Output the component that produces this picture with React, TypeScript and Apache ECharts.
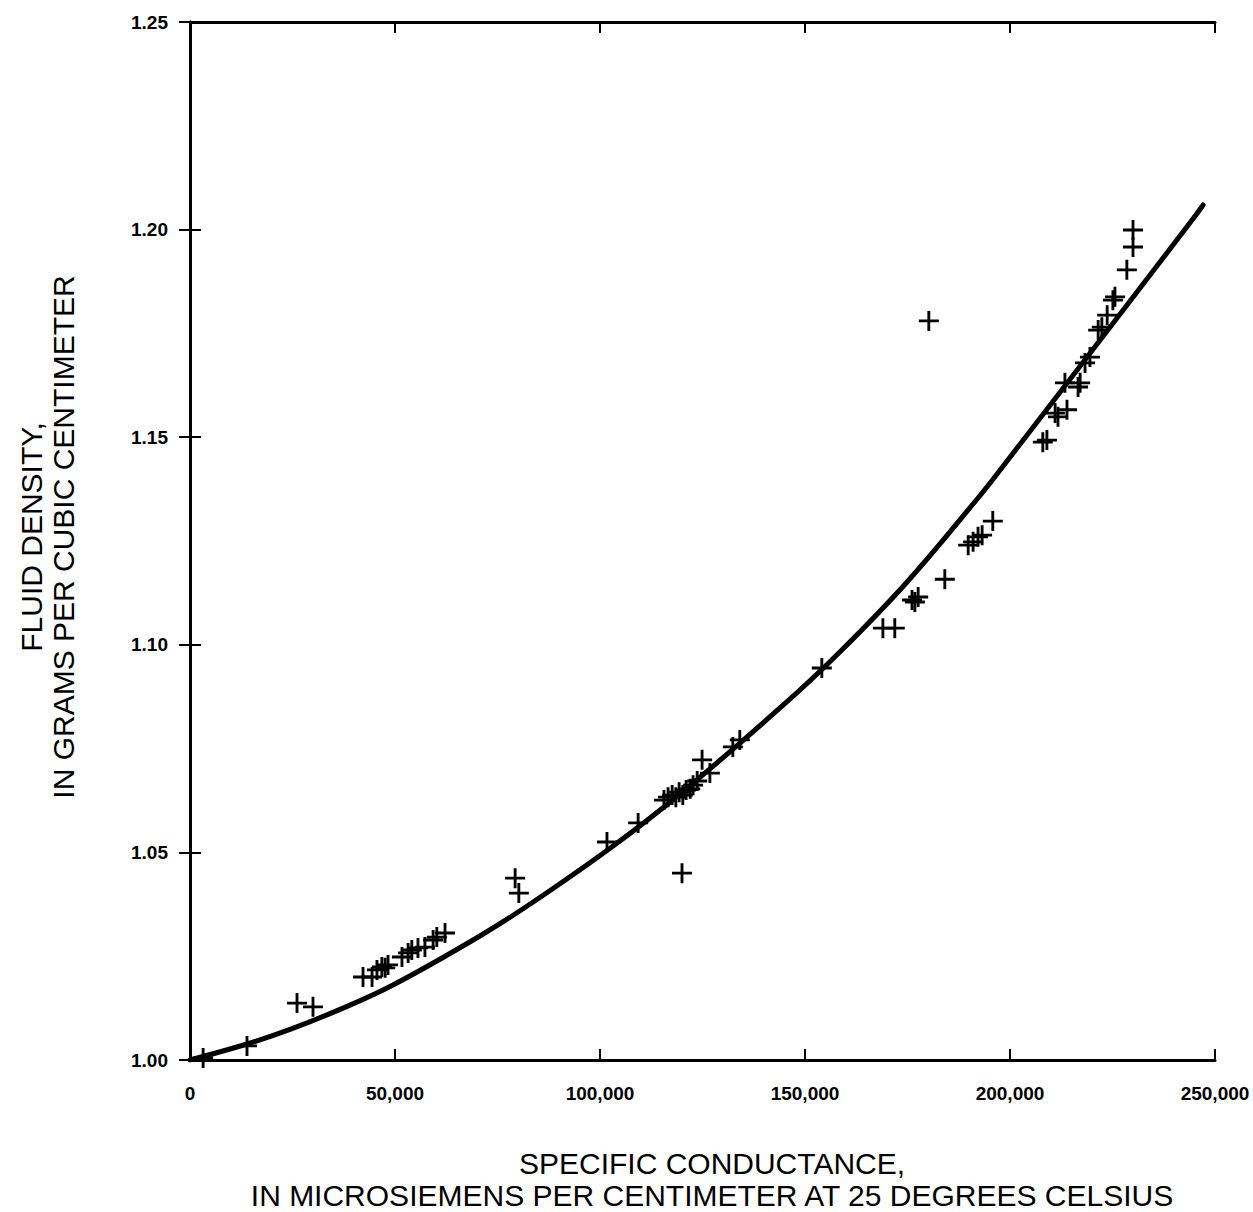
import React, { useEffect, useRef } from "react";
import * as echarts from "echarts";

const xTicks = [0, 50000, 100000, 150000, 200000, 250000];
const yTicks = [1.0, 1.05, 1.1, 1.15, 1.2, 1.25];

const sampleConductance = [
  3200, 13900, 26100, 30000, 42200, 44400, 45600, 46800, 47600, 48300,
  51700, 53200, 54100, 55600, 57300, 59300, 60200, 62200, 79300, 80200,
  101700, 109300, 120000, 115600, 116600, 117600, 118500, 119300, 120200, 121000,
  122000, 122700, 123700, 124900, 126800, 132400, 134100, 154100, 169000, 171900,
  176100, 176800, 177600, 184100, 189800, 191000, 192200, 193200, 195800, 180200,
  208000, 209000, 211000, 211700, 213900, 213400, 216600, 217100, 218300, 219500,
  221500, 222400, 223700, 225100, 225600, 228500, 230000, 230000,
];
const sampleDensity = [
  1.0005, 1.0034, 1.0137, 1.0128, 1.02, 1.02, 1.0217, 1.0224, 1.0222, 1.0229,
  1.0248, 1.0258, 1.0265, 1.027, 1.0272, 1.0289, 1.0296, 1.0306, 1.0438, 1.0402,
  1.0525, 1.0571, 1.045, 1.0626, 1.0633, 1.0638, 1.0633, 1.0645, 1.0638, 1.065,
  1.0653, 1.0662, 1.0672, 1.0723, 1.0691, 1.0754, 1.0771, 1.0944, 1.104, 1.104,
  1.1108, 1.1103, 1.1115, 1.1158, 1.124, 1.1248, 1.126, 1.1264, 1.1298, 1.178,
  1.1488, 1.1493, 1.1558, 1.1549, 1.1566, 1.1631, 1.1621, 1.1631, 1.1679, 1.1693,
  1.1758, 1.1765, 1.1794, 1.183, 1.1838, 1.1903, 1.1958, 1.1999,
];

const curveConductance = [
  0, 13900, 24400, 36600, 49500, 70700, 83700, 103200, 119500, 143900,
  158500, 174900, 192000, 197600, 220500, 244600, 247100,
];
const curveDensity = [
  1.0, 1.00385, 1.00737, 1.01219, 1.01806, 1.02987, 1.03805, 1.05154, 1.06407, 1.08478,
  1.09827, 1.11513, 1.13512, 1.1421, 1.17148, 1.20255, 1.20593,
];

const yTitle = ["FLUID DENSITY,", "IN GRAMS PER CUBIC CENTIMETER"];
const xTitle = ["SPECIFIC CONDUCTANCE,", "IN MICROSIEMENS PER CENTIMETER AT 25 DEGREES CELSIUS"];

const FONT = "'Liberation Sans', Arial, sans-serif";

export default function App() {
  const ref = useRef<HTMLDivElement>(null);
  useEffect(() => {
    if (!ref.current) return;
    const chart = echarts.init(ref.current, null, { renderer: "svg" });
    const axisCommon = {
      type: "value" as const,
      axisLine: { show: true, lineStyle: { color: "#000", width: 3 } },
      axisTick: { show: true, inside: true, length: 11, lineStyle: { color: "#000", width: 2 } },
      splitLine: { show: false },
    };
    const fmtX = (v: number) => (v === 0 ? "0" : v.toLocaleString("en-US"));
    const titleStyle = (text: string) => ({
      text,
      font: `30px ${FONT}`,
      fill: "#000",
      textAlign: "center",
      textVerticalAlign: "middle",
    });
    chart.setOption({
      animation: false,
      backgroundColor: "#fff",
      grid: { left: 190, right: 38, top: 22, bottom: 152 },
      xAxis: [
        {
          ...axisCommon,
          position: "bottom",
          min: xTicks[0],
          max: xTicks[xTicks.length - 1],
          interval: 50000,
          axisLabel: {
            margin: 24,
            color: "#000",
            fontFamily: FONT,
            fontSize: 19,
            fontWeight: "bold",
            formatter: fmtX,
            showMaxLabel: true,
            showMinLabel: true,
          },
        },
        {
          ...axisCommon,
          position: "top",
          min: xTicks[0],
          max: xTicks[xTicks.length - 1],
          interval: 50000,
          axisLabel: { show: false },
        },
      ],
      yAxis: [
        {
          ...axisCommon,
          position: "left",
          min: yTicks[0],
          max: yTicks[yTicks.length - 1],
          interval: 0.05,
          axisLabel: {
            margin: 22,
            color: "#000",
            fontFamily: FONT,
            fontSize: 19,
            fontWeight: "bold",
            formatter: (v: number) => v.toFixed(2),
          },
        },
        {
          ...axisCommon,
          position: "right",
          min: yTicks[0],
          max: yTicks[yTicks.length - 1],
          interval: 0.05,
          axisLabel: { show: false },
        },
      ],
      series: [
        {
          type: "line",
          data: curveConductance.map((x, i) => [x, curveDensity[i]]),
          smooth: 0.4,
          showSymbol: false,
          symbol: "none",
          lineStyle: { color: "#000", width: 5, cap: "round" },
          z: 3,
        },
        {
          type: "scatter",
          data: sampleConductance.map((x, i) => [x, sampleDensity[i]]),
          symbol: "path://M-1,-7 H1 V-1 H7 V1 H1 V7 H-1 V1 H-7 V-1 H-1 Z",
          symbolSize: 20,
          itemStyle: { color: "#000", opacity: 1 },
          z: 4,
        },
      ],
      graphic: [
        { type: "text", x: 31, y: 537, rotation: Math.PI / 2, style: titleStyle(yTitle[0]) },
        { type: "text", x: 63, y: 537, rotation: Math.PI / 2, style: titleStyle(yTitle[1]) },
        { type: "text", x: 712, y: 1163, style: titleStyle(xTitle[0]) },
        { type: "text", x: 712, y: 1195, style: titleStyle(xTitle[1]) },
      ],
    });
    return () => chart.dispose();
  }, []);
  return <div ref={ref} style={{ width: 1253, height: 1212, position: "absolute", left: 0, top: 0 }} />;
}
